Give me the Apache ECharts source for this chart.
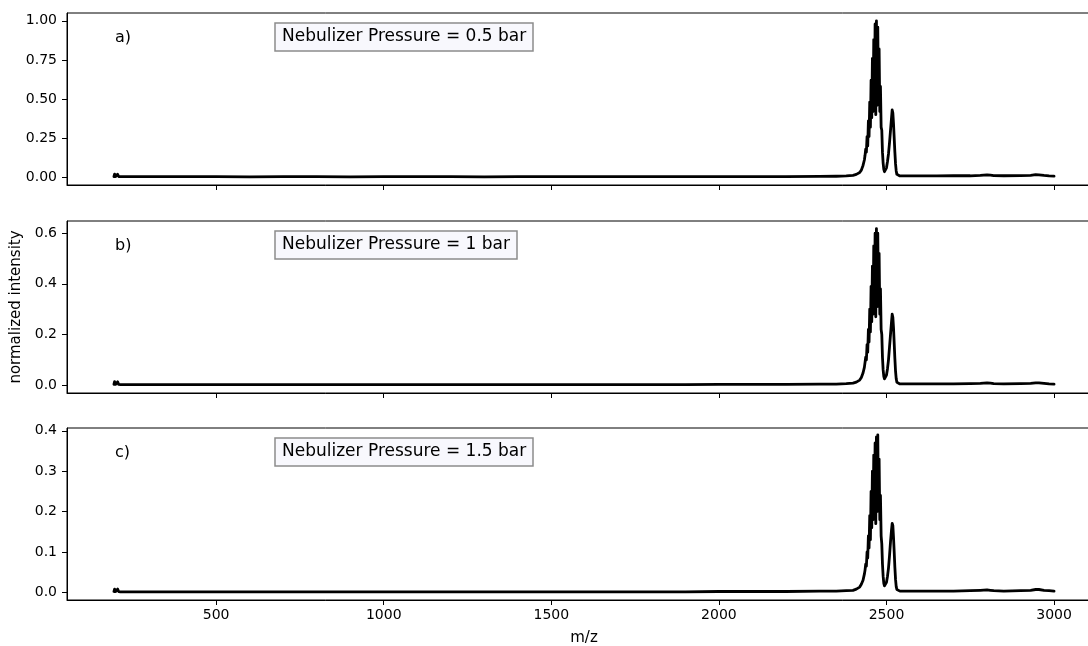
<!DOCTYPE html>
<html>
<head>
    <meta charset="utf-8">
    <title>Nebulizer Pressure Spectra</title>
    <script src="https://cdn.jsdelivr.net/npm/echarts@6/dist/echarts.min.js"></script>
</head>
<body style="margin:0; overflow:hidden;">
    <!-- a bit wider than the window: the right edge of the axes box is cut off, as in the original -->
    <div id="chart" style="width: 1110px; height: 646px;"></div>

    <script>
        // m/z grid shared by the three spectra
        const mz = [195,197,200,203,206,209,215,250,300,400,500,600,700,800,900,1000,1100,1200,1300,1400,1500,1600,1700,1800,1900,2000,2100,2200,2300,2350,2380,
            2400,2410,2420,2425,2430,2434,
            2436,2438,2440,2442,2444,2446,2448,2450,2452,2454,2456,2458,2460,2462,2464,2466,2468,2470,2472,2474,2476,2478,2480,2482,2484,2486,2488,2490,2492,2494,2496,2498,2500,
            2503,2506,2509,2512,2515,2517,2519,2521,2523,2525,2527,2529,2531,2533,2536,
            2540,2600,2650,2700,2750,2780,2800,2810,2820,2850,2900,2930,2945,2955,2970,2985,3000];

        // a) 0.5 bar
        const intensA = [0.004,0.02,0.004,0.003,0.019,0.004,0.003,0.003,0.003,
            0.003,0.003,0.002,0.003,0.003,0.002,0.003,0.003,0.003,0.002,0.003,0.003,0.003,0.003,0.003,0.003,0.004,0.004,0.004,0.005,
            0.006,0.008,
            0.012,0.018,0.03,0.045,0.075,0.11,
            0.14,0.18,0.16,0.26,0.20,0.36,0.26,0.48,0.32,0.62,0.38,0.76,0.42,0.88,0.45,0.98,0.40,1.00,0.46,0.96,0.50,0.82,0.42,0.58,0.32,0.30,0.16,0.09,0.05,0.035,0.03,0.04,0.06,
            0.1,0.15,0.22,0.3,0.38,0.43,0.41,0.34,0.25,0.16,0.085,0.04,0.018,0.011,0.009,
            0.008,0.008,0.008,0.009,0.009,0.011,0.015,0.013,0.01,0.009,0.01,0.012,0.016,0.015,0.011,0.008,0.007];

        // b) 1 bar
        const intensB = [0.003,0.014,0.003,0.002,0.013,0.003,0.002,0.002,0.002,
            0.002,0.002,0.002,0.002,0.002,0.002,0.002,0.002,0.002,0.002,0.002,0.002,0.002,0.002,0.002,0.002,0.003,0.003,0.003,0.004,
            0.004,0.006,
            0.008,0.012,0.02,0.03,0.048,0.07,
            0.09,0.11,0.10,0.16,0.13,0.22,0.17,0.30,0.21,0.39,0.25,0.47,0.28,0.55,0.30,0.60,0.27,0.618,0.31,0.60,0.33,0.52,0.28,0.38,0.22,0.20,0.11,0.06,0.035,0.025,0.022,0.03,0.04,
            0.065,0.1,0.15,0.2,0.25,0.28,0.268,0.225,0.165,0.105,0.055,0.025,0.011,0.007,0.006,
            0.005,0.005,0.005,0.005,0.006,0.007,0.009,0.008,0.006,0.005,0.006,0.007,0.009,0.009,0.007,0.005,0.004];

        // c) 1.5 bar
        const intensC = [0.002,0.008,0.002,0.001,0.008,0.002,0.001,0.001,0.001,
            0.001,0.001,0.001,0.001,0.001,0.001,0.001,0.001,0.001,0.001,0.001,0.001,0.001,0.001,0.001,0.001,0.002,0.002,0.002,0.003,
            0.003,0.004,
            0.005,0.008,0.013,0.02,0.03,0.045,
            0.055,0.07,0.065,0.10,0.085,0.14,0.11,0.19,0.13,0.25,0.16,0.30,0.18,0.34,0.19,0.37,0.17,0.385,0.2,0.39,0.21,0.33,0.18,0.24,0.14,0.12,0.07,0.04,0.022,0.016,0.014,0.018,0.025,
            0.04,0.06,0.09,0.125,0.155,0.171,0.165,0.135,0.1,0.062,0.032,0.014,0.007,0.004,0.003,
            0.003,0.003,0.003,0.003,0.004,0.005,0.006,0.005,0.004,0.003,0.004,0.005,0.007,0.007,0.005,0.004,0.003];

        const panelLabels = ['a)', 'b)', 'c)'];
        const pressureLabels = ['Nebulizer Pressure = 0.5 bar', 'Nebulizer Pressure = 1 bar', 'Nebulizer Pressure = 1.5 bar'];
        const xTicks = [500, 1000, 1500, 2000, 2500, 3000];
        const yTicks = [[0, 0.25, 0.5, 0.75, 1.0], [0, 0.2, 0.4, 0.6], [0, 0.1, 0.2, 0.3, 0.4]];
        const yRange = [[-0.05, 1.05], [-0.031, 0.648], [-0.019, 0.407]];
        const yDigits = [2, 1, 1];

        const FONT = 'DejaVu Sans';
        const gridTops = [13, 221, 428];
        const gridH = 172;

        const chart = echarts.init(document.getElementById('chart'));

        const grids = gridTops.map(t => ({
            left: 67, top: t, width: 1034, height: gridH,
            outerBoundsMode: 'none',
            show: true, borderColor: '#000', borderWidth: 1, backgroundColor: 'transparent'
        }));

        const xAxes = gridTops.map((t, i) => ({
            type: 'value', gridIndex: i, min: 55, max: 3140,
            axisLine: { show: true, onZero: false, lineStyle: { color: '#000', width: 1 } },
            axisTick: { show: true, length: 5, customValues: xTicks, lineStyle: { color: '#000' } },
            axisLabel: {
                show: i === 2, customValues: xTicks, margin: 8,
                fontFamily: FONT, fontSize: 14, color: '#000',
                formatter: v => String(v)
            },
            splitLine: { show: false },
            name: i === 2 ? 'm/z' : '',
            nameLocation: 'middle', nameGap: 31,
            nameTextStyle: { fontFamily: FONT, fontSize: 15, color: '#000' }
        }));

        const yAxes = gridTops.map((t, i) => ({
            type: 'value', gridIndex: i, min: yRange[i][0], max: yRange[i][1],
            axisLine: { show: true, onZero: false, lineStyle: { color: '#000', width: 1 } },
            axisTick: { show: true, length: 5, customValues: yTicks[i], lineStyle: { color: '#000' } },
            axisLabel: {
                customValues: yTicks[i], margin: 10,
                fontFamily: FONT, fontSize: 14, color: '#000',
                formatter: v => v.toFixed(yDigits[i])
            },
            splitLine: { show: false },
            name: i === 1 ? 'normalized intensity' : '',
            nameLocation: 'middle', nameGap: 42,
            nameTextStyle: { fontFamily: FONT, fontSize: 15, color: '#000' }
        }));

        const spectra = [intensA, intensB, intensC];
        const series = spectra.map((arr, i) => ({
            type: 'line', xAxisIndex: i, yAxisIndex: i,
            data: mz.map((m, k) => [m, arr[k]]),
            symbol: 'none', silent: true,
            // round joins like matplotlib, so the dense zigzag reads as a filled band
            lineStyle: { color: '#000', width: 2.8, join: 'round', cap: 'round' }
        }));

        const titles = [];
        gridTops.forEach((t, i) => {
            titles.push({
                text: panelLabels[i], left: 115, top: t + 16, padding: 0,
                textStyle: { fontFamily: FONT, fontSize: 16, fontWeight: 'normal', color: '#000', lineHeight: 18 }
            });
            titles.push({
                text: pressureLabels[i], left: 275, top: t + 10,
                padding: [5, 7], borderColor: '#8c8c8c', borderWidth: 1.5, backgroundColor: '#f8f8fd',
                textStyle: { fontFamily: FONT, fontSize: 17, fontWeight: 'normal', color: '#000', lineHeight: 18 }
            });
        });

        chart.setOption({
            animation: false,
            title: titles,
            grid: grids,
            xAxis: xAxes,
            yAxis: yAxes,
            series: series
        });
    </script>
</body>
</html>
